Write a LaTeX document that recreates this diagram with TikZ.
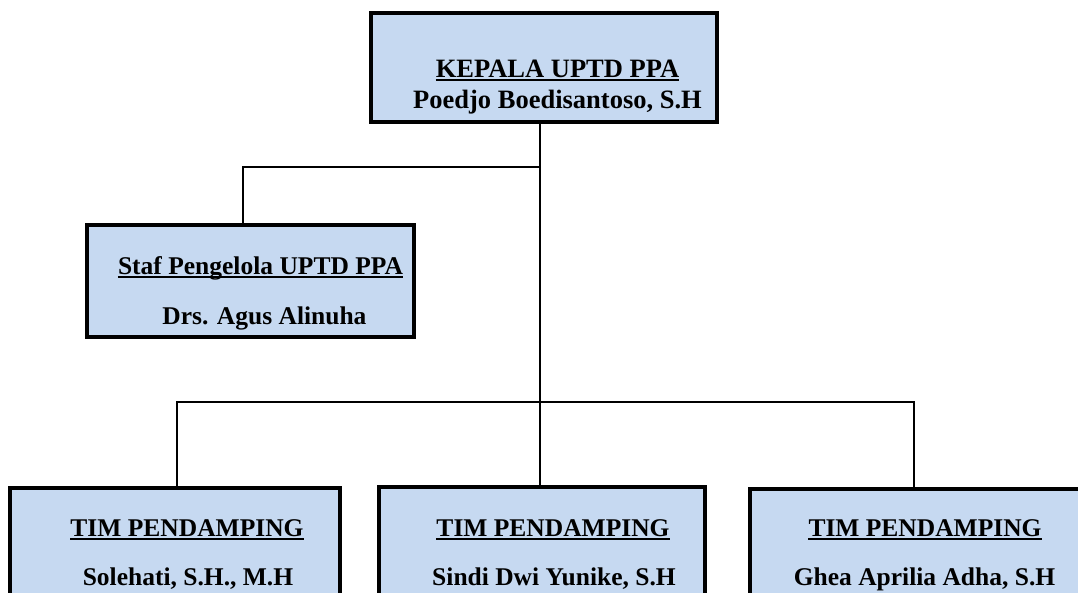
\documentclass[tikz,border=0pt]{standalone}
\usepackage{fontspec}
\setmainfont{Liberation Serif}
\usepackage{xcolor}
\usetikzlibrary{calc}
\definecolor{boxblue}{HTML}{C6D9F1}

\begin{document}
\begin{tikzpicture}[x=1pt,y=-1pt,
    unitbox/.style={draw=black,line width=3.6pt,fill=boxblue,inner sep=0pt},
    boxtext/.style={anchor=base,inner sep=0pt,font=\fontsize{25.5}{30}\selectfont\bfseries},
    headtext/.style={boxtext,font=\fontsize{26.5}{31}\selectfont\bfseries},
    underbar/.style={line width=1.6pt},
    link/.style={line width=1.5pt}]
  \useasboundingbox (0,0) rectangle (1078,592);
  \clip (0,0) rectangle (1078,592);
  % boxes
  \node[unitbox,minimum width=346pt,minimum height=109pt] (kepala) at (544,67.5) {};
  \node[unitbox,minimum width=327pt,minimum height=112pt] (staf) at (250.5,281) {};
  \node[unitbox,minimum width=330pt,minimum height=134pt] (timA) at (175,555) {};
  \node[unitbox,minimum width=326pt,minimum height=134pt] (timB) at (542,554) {};
  \node[unitbox,minimum width=350pt,minimum height=134pt] (timC) at (925,556) {};
  % texts
  \node[headtext] (kepalaT) at (557.5,77) {KEPALA UPTD PPA};
  \node[headtext] (kepalaN) at (557.5,108) {Poedjo Boedisantoso, S.H};
  \node[boxtext] (stafT) at (260.5,274) {Staf Pengelola UPTD PPA};
  \node[boxtext] (stafN) at (264.5,324) {Drs. Agus Alinuha};
  \node[boxtext] (timAT) at (187,536) {TIM PENDAMPING};
  \node[boxtext] (timAN) at (188,585) {Solehati, S.H., M.H};
  \node[boxtext] (timBT) at (553,536) {TIM PENDAMPING};
  \node[boxtext] (timBN) at (554,585) {Sindi Dwi Yunike, S.H};
  \node[boxtext] (timCT) at (925,536) {TIM PENDAMPING};
  \node[boxtext] (timCN) at (924.5,585) {Ghea Aprilia Adha, S.H};
  % underlines
  \foreach \t in {kepalaT,stafT,timAT,timBT,timCT}
    \draw[underbar] ([yshift=-3pt]\t.base west) -- ([yshift=-3pt]\t.base east);
  % connectors
  \coordinate (spine) at (540,402);
  \coordinate (stafTap) at (243,167);
  \coordinate (busL) at (177,402);
  \coordinate (busR) at (914,402);
  \draw[link] (kepala.south -| spine) -- (timB.north -| spine);
  \draw[link] (stafTap -| spine) -- (stafTap) -- (stafTap |- staf.north);
  \draw[link] (busL |- timA.north) -- (busL) -- (busR) -- (busR |- timC.north);
\end{tikzpicture}
\end{document}
